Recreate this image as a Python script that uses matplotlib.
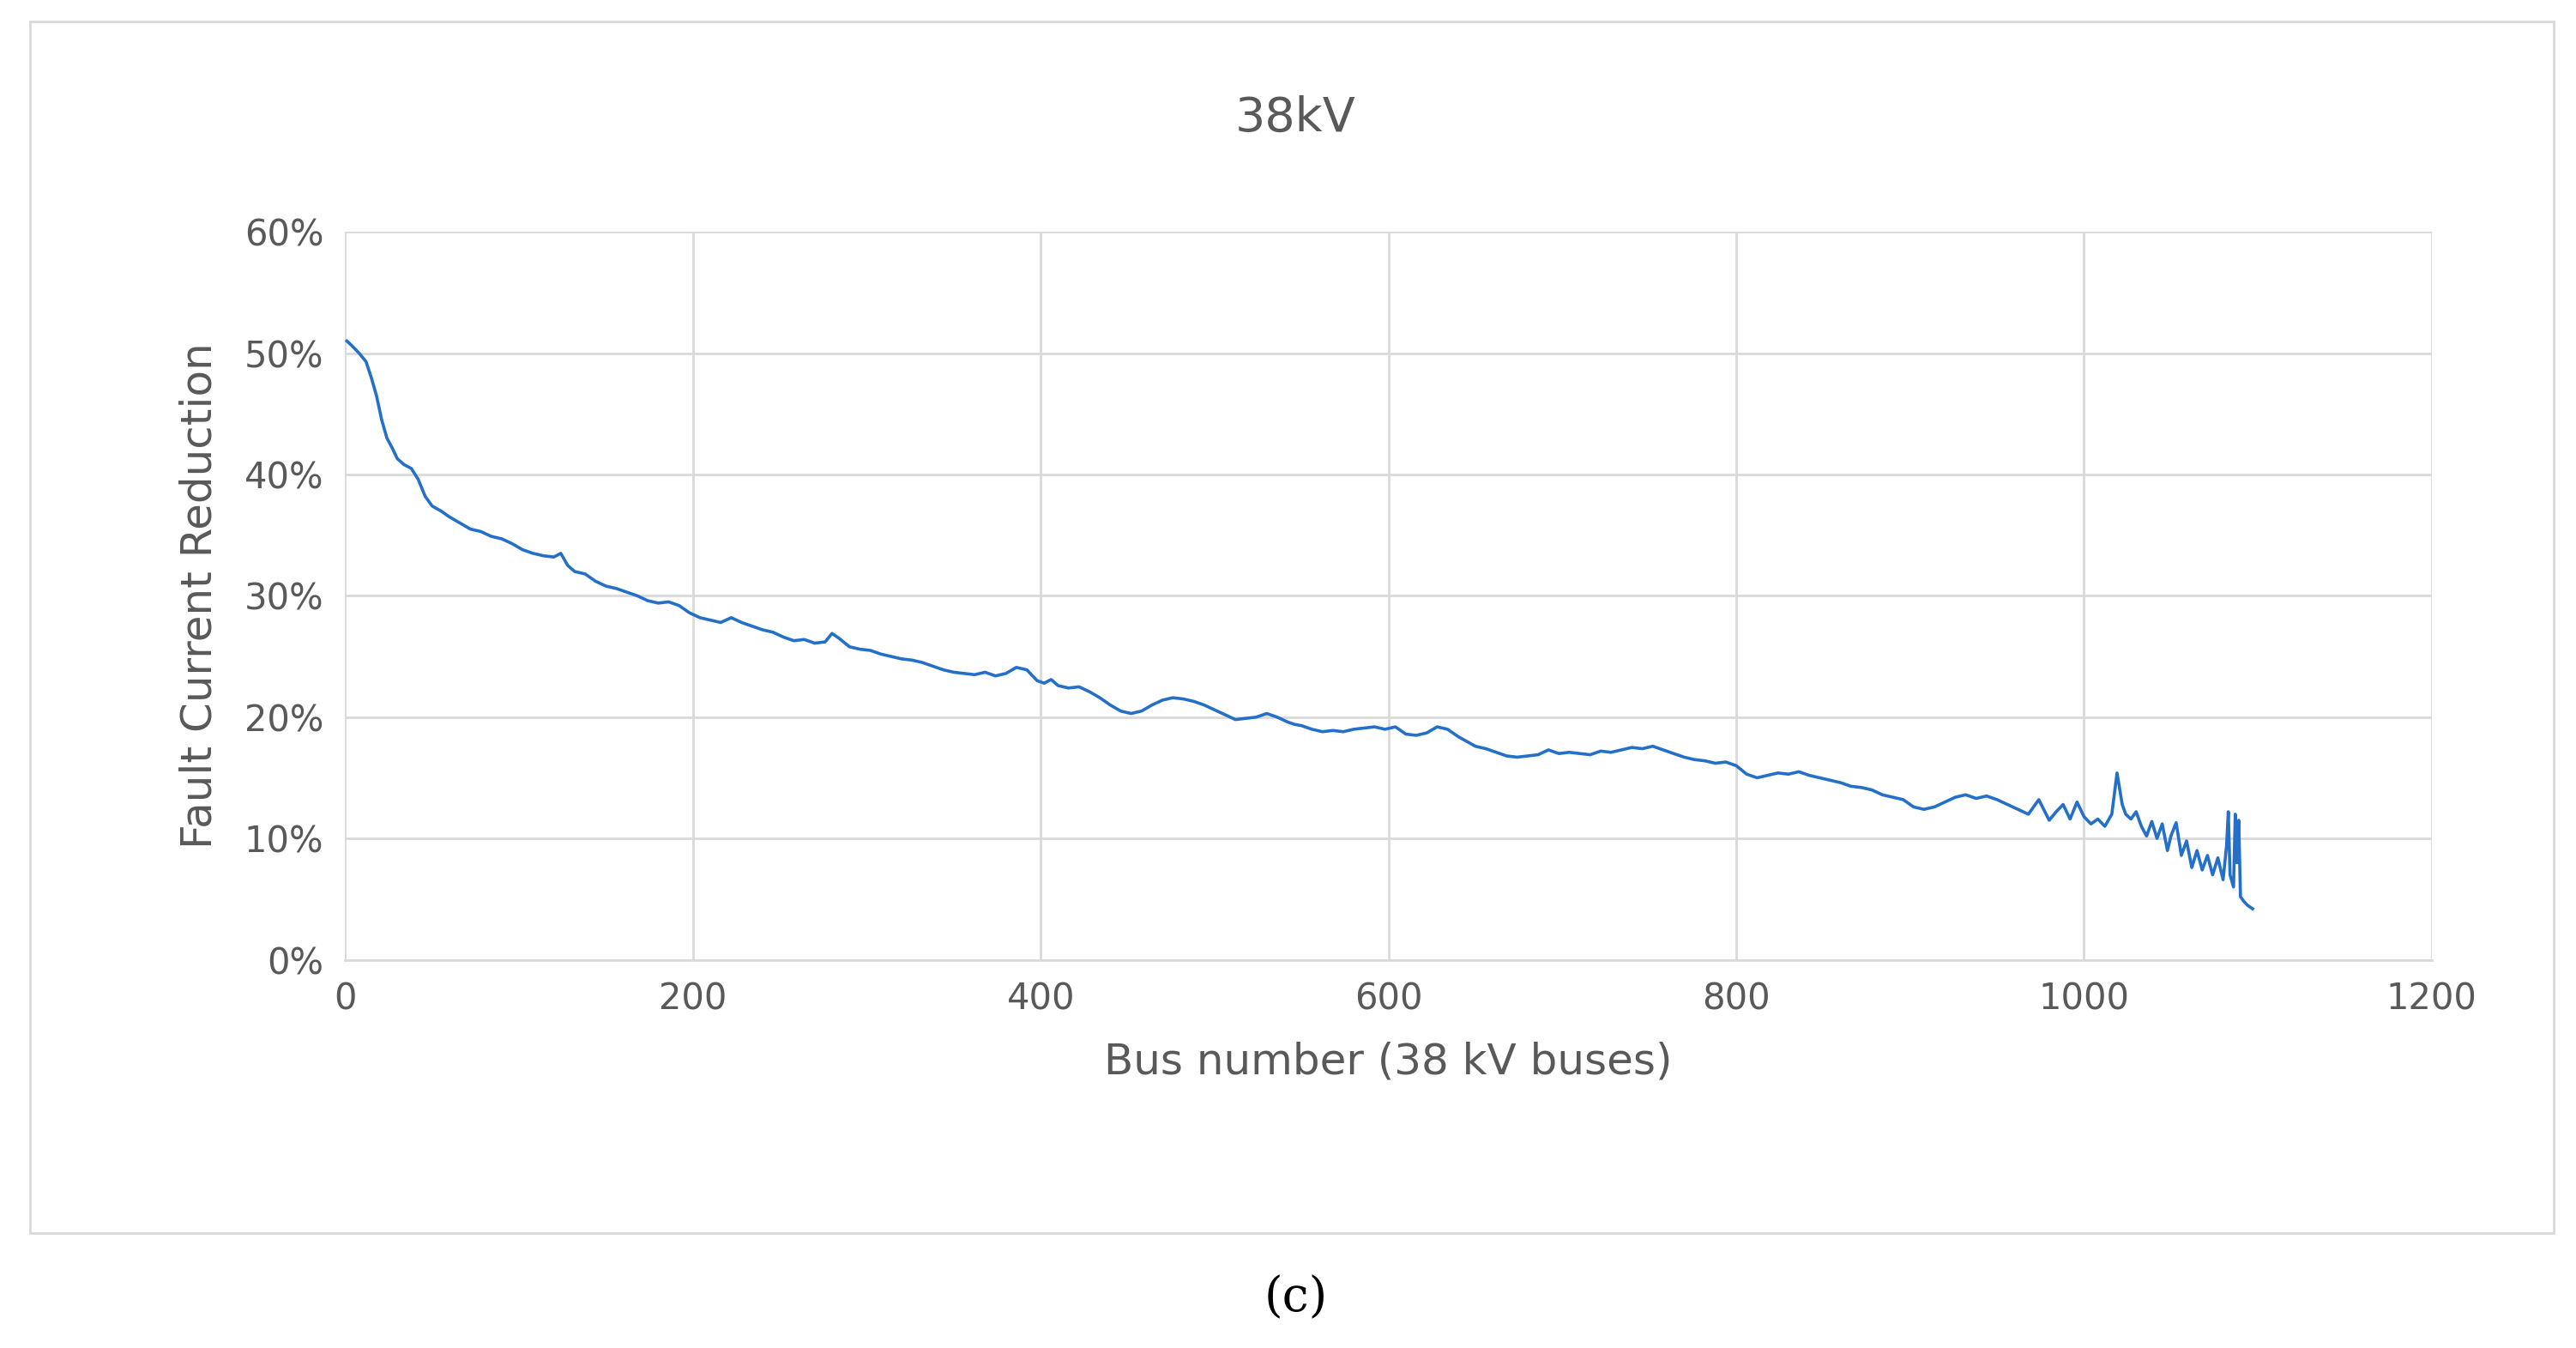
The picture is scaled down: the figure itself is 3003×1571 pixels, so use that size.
import matplotlib
matplotlib.use("Agg")
import matplotlib.pyplot as plt
from matplotlib.patches import Rectangle
from matplotlib.ticker import PercentFormatter

bus = [1,4,8,12,15,18,21,24,27,30,34,38,42,46,50,55,60,66,72,78,84,90,96,102,108,114,120,124,128,132,138,144,150,156,162,168,174,180,186,192,198,204,210,216,222,228,234,240,246,252,258,264,270,276,280,284,290,296,302,308,314,320,326,332,338,344,350,356,362,368,374,380,386,392,398,402,406,410,416,422,428,434,440,446,452,458,464,470,476,482,488,494,500,506,512,518,524,530,536,542,546,550,556,562,568,574,580,586,592,598,604,610,616,622,628,634,640,645,650,656,662,668,674,680,686,692,698,704,710,716,722,728,734,740,746,752,758,764,770,776,782,788,794,800,806,812,818,824,830,836,842,848,854,860,866,872,878,884,890,896,902,908,914,920,926,932,938,944,950,956,962,968,974,980,984,988,992,996,1000,1004,1008,1012,1016,1019,1022,1024,1027,1030,1033,1036,1039,1042,1045,1048,1050,1053,1056,1059,1062,1065,1068,1071,1074,1077,1080,1082,1083,1084,1086,1087,1088,1089,1090,1092,1094,1097]
red = [51.0,50.6,50.0,49.3,48.0,46.5,44.5,43.0,42.2,41.3,40.8,40.5,39.6,38.2,37.4,37.0,36.5,36.0,35.5,35.3,34.9,34.7,34.3,33.8,33.5,33.3,33.2,33.5,32.5,32.0,31.8,31.2,30.8,30.6,30.3,30.0,29.6,29.4,29.5,29.2,28.6,28.2,28.0,27.8,28.2,27.8,27.5,27.2,27.0,26.6,26.3,26.4,26.1,26.2,26.9,26.5,25.8,25.6,25.5,25.2,25.0,24.8,24.7,24.5,24.2,23.9,23.7,23.6,23.5,23.7,23.4,23.6,24.1,23.9,23.0,22.8,23.1,22.6,22.4,22.5,22.1,21.6,21.0,20.5,20.3,20.5,21.0,21.4,21.6,21.5,21.3,21.0,20.6,20.2,19.8,19.9,20.0,20.3,20.0,19.6,19.4,19.3,19.0,18.8,18.9,18.8,19.0,19.1,19.2,19.0,19.2,18.6,18.5,18.7,19.2,19.0,18.4,18.0,17.6,17.4,17.1,16.8,16.7,16.8,16.9,17.3,17.0,17.1,17.0,16.9,17.2,17.1,17.3,17.5,17.4,17.6,17.3,17.0,16.7,16.5,16.4,16.2,16.3,16.0,15.3,15.0,15.2,15.4,15.3,15.5,15.2,15.0,14.8,14.6,14.3,14.2,14.0,13.6,13.4,13.2,12.6,12.4,12.6,13.0,13.4,13.6,13.3,13.5,13.2,12.8,12.4,12.0,13.2,11.5,12.2,12.8,11.6,13.0,11.8,11.2,11.6,11.0,12.0,15.4,12.8,12.0,11.6,12.2,11.0,10.2,11.4,10.0,11.2,9.0,10.2,11.3,8.6,9.8,7.6,9.0,7.4,8.6,7.0,8.4,6.6,9.4,12.2,7.0,6.0,12.0,8.0,11.5,5.2,4.8,4.5,4.2]

n = min(len(bus), len(red))
bus = bus[:n]
red = red[:n]

fig = plt.figure(figsize=(30.03, 15.71), dpi=100)
fig.patches.append(Rectangle((0.0115, 0.085), 0.980, 0.899, transform=fig.transFigure,
                             fill=False, edgecolor="#d9d9d9", linewidth=2))
ax = fig.add_axes([0.134, 0.288, 0.810, 0.540])
ax.plot(bus, [v / 100 for v in red], color="#2470c8", linewidth=2.6)
ax.set_xlim(0, 1200)
ax.set_ylim(0, 0.6)
ax.set_xticks(range(0, 1201, 200))
ax.set_yticks([i / 10 for i in range(7)])
ax.yaxis.set_major_formatter(PercentFormatter(1.0, decimals=0))
ax.grid(True, color="#d9d9d9", linewidth=2)
ax.set_axisbelow(True)
for s in ["top", "right", "left"]:
    ax.spines[s].set_visible(False)
ax.spines["bottom"].set_color("#d9d9d9")
ax.spines["bottom"].set_linewidth(2)
ax.tick_params(length=0, labelsize=30, labelcolor="#595959", pad=18)
ax.set_xlabel("Bus number (38 kV buses)", fontsize=36, color="#595959", labelpad=20)
ax.set_ylabel("Fault Current Reduction", fontsize=36, color="#595959", labelpad=20)
fig.text(0.503, 0.912, "38kV", fontsize=40, color="#595959", ha="center", va="center")
fig.text(0.503, 0.037, "(c)", fontsize=40, color="black", ha="center", va="center", family="DejaVu Serif")
fig.savefig("out.png", dpi=100)
